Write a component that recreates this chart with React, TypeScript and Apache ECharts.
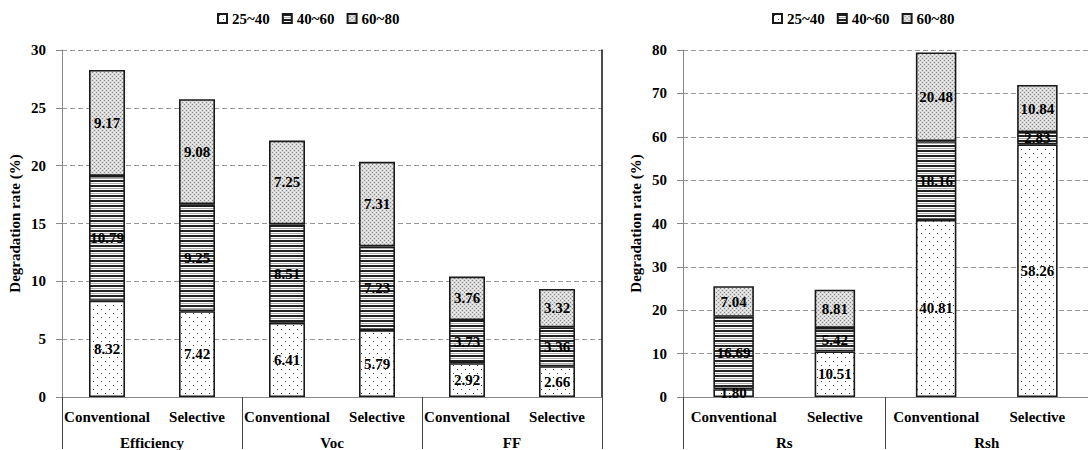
import React, { useEffect, useRef } from "react";
import * as echarts from "echarts";

// Temperature bands (legend entries)
const bands = ["25~40", "40~60", "60~80"];

// Left panel: Efficiency / Voc / FF
const leftSubCats = ["Conventional", "Selective", "Conventional", "Selective", "Conventional", "Selective"];
const leftGroups = ["Efficiency", "Voc", "FF"];
const left25_40 = [8.32, 7.42, 6.41, 5.79, 2.92, 2.66];
const left40_60 = [10.79, 9.25, 8.51, 7.23, 3.73, 3.36];
const left60_80 = [9.17, 9.08, 7.25, 7.31, 3.76, 3.32];
const leftTicks = { min: 0, max: 30, interval: 5 };

// Right panel: Rs / Rsh
const rightSubCats = ["Conventional", "Selective", "Conventional", "Selective"];
const rightGroups = ["Rs", "Rsh"];
const right25_40 = [1.8, 10.51, 40.81, 58.26];
const right40_60 = [16.69, 5.42, 18.16, 2.83];
const right60_80 = [7.04, 8.81, 20.48, 10.84];
const rightTicks = { min: 0, max: 80, interval: 10 };

const yName = "Degradation rate (%)";
const FONT = "'Liberation Serif', 'Times New Roman', serif";

function makePattern(w: number, h: number, draw: (ctx: CanvasRenderingContext2D) => void) {
  const c = document.createElement("canvas");
  c.width = w;
  c.height = h;
  const ctx = c.getContext("2d") as CanvasRenderingContext2D;
  draw(ctx);
  return { image: c.toDataURL(), repeat: "repeat", imageWidth: w, imageHeight: h } as any;
}

export default function App() {
  const ref = useRef<HTMLDivElement>(null);

  useEffect(() => {
    if (!ref.current) return;
    const chart = echarts.init(ref.current, null, { renderer: "svg" });

    // sparse black dots on white
    const dots = makePattern(8, 8, (ctx) => {
      ctx.fillStyle = "#ffffff";
      ctx.fillRect(0, 0, 8, 8);
      ctx.fillStyle = "#444444";
      ctx.fillRect(1, 1, 1, 1);
      ctx.fillRect(5, 5, 1, 1);
    });
    // horizontal stripes
    const stripes = makePattern(4, 5, (ctx) => {
      ctx.fillStyle = "#ffffff";
      ctx.fillRect(0, 0, 4, 5);
      ctx.fillStyle = "#222222";
      ctx.fillRect(0, 0, 4, 2);
      ctx.fillStyle = "#aaaaaa";
      ctx.fillRect(0, 3, 4, 1);
    });
    // dense grey stipple
    const stipple = makePattern(4, 4, (ctx) => {
      ctx.fillStyle = "#d8d8d8";
      ctx.fillRect(0, 0, 4, 4);
      ctx.fillStyle = "#8a8a8a";
      ctx.fillRect(0, 0, 1, 1);
      ctx.fillRect(2, 2, 1, 1);
      ctx.fillStyle = "#f4f4f4";
      ctx.fillRect(2, 0, 1, 1);
      ctx.fillRect(0, 2, 1, 1);
    });
    const fills = [dots, stripes, stipple];

    const labelStyle = {
      show: true,
      position: "inside",
      color: "#000",
      fontFamily: FONT,
      fontWeight: "bold",
      fontSize: 15,
      formatter: (p: any) => Number(p.value).toFixed(2),
    };

    const mkSeries = (data: number[][], xi: number, yi: number, stack: string) =>
      data.map((d, i) => ({
        type: "bar",
        name: bands[i],
        stack,
        xAxisIndex: xi,
        yAxisIndex: yi,
        barWidth: "40%",
        data: d,
        itemStyle: { color: fills[i], borderColor: "#1a1a1a", borderWidth: 1.6 },
        label: labelStyle,
      }));

    const tickLabel = { color: "#000", fontFamily: FONT, fontWeight: "bold", fontSize: 15 };

    const valueAxis = (grid: number, t: { min: number; max: number; interval: number }) => ({
      type: "value",
      gridIndex: grid,
      min: t.min,
      max: t.max,
      interval: t.interval,
      name: yName,
      nameLocation: "middle",
      nameGap: 40,
      nameTextStyle: { ...tickLabel },
      axisLine: { show: true, lineStyle: { color: "#888", width: 1 } },
      axisTick: { show: true, length: 6, lineStyle: { color: "#888" } },
      axisLabel: { ...tickLabel, margin: 16 },
      splitLine: { show: true, lineStyle: { color: "#999", type: [5, 3], width: 1 } },
    });

    const subAxis = (grid: number, data: string[]) => ({
      type: "category",
      gridIndex: grid,
      data,
      axisLine: { show: true, onZero: false, lineStyle: { color: "#888", width: 1 } },
      axisTick: { show: false },
      axisLabel: { ...tickLabel, margin: 12, interval: 0 },
      splitLine: { show: false },
    });

    const groupAxis = (grid: number, data: string[]) => ({
      type: "category",
      gridIndex: grid,
      data,
      position: "bottom",
      axisLine: { show: false },
      axisTick: { show: true, length: 52, interval: 0, lineStyle: { color: "#444", width: 1 } },
      axisLabel: { ...tickLabel, margin: 38, interval: 0 },
      splitLine: { show: false },
    });

    const legendBase = {
      data: bands.map((name) => ({ name, icon: "rect" })),
      top: 11,
      itemWidth: 9,
      itemHeight: 9,
      itemGap: 12,
      padding: 0,
      textStyle: { ...tickLabel },
    };

    chart.setOption({
      animation: false,
      backgroundColor: "#ffffff",
      legend: [
        { ...legendBase, left: 217 },
        { ...legendBase, left: 772 },
      ],
      grid: [
        { left: 62, width: 540, top: 50, bottom: 52 },
        { left: 683, width: 412, top: 50, bottom: 52 },
      ],
      xAxis: [
        subAxis(0, leftSubCats),
        groupAxis(0, leftGroups),
        subAxis(1, rightSubCats),
        groupAxis(1, rightGroups),
      ],
      yAxis: [
        valueAxis(0, leftTicks),
        {
          type: "value",
          gridIndex: 0,
          position: "right",
          min: leftTicks.min,
          max: leftTicks.max,
          axisLine: { show: true, lineStyle: { color: "#111", width: 1.5 } },
          axisTick: { show: false },
          axisLabel: { show: false },
          splitLine: { show: false },
        },
        valueAxis(1, rightTicks),
      ],
      series: [
        ...mkSeries([left25_40, left40_60, left60_80], 0, 0, "left"),
        ...mkSeries([right25_40, right40_60, right60_80], 2, 2, "right"),
      ],
    });

    return () => chart.dispose();
  }, []);

  return (
    <div
      ref={ref}
      style={{ position: "absolute", left: 0, top: 0, width: 1088, height: 450, background: "#fff" }}
    />
  );
}
